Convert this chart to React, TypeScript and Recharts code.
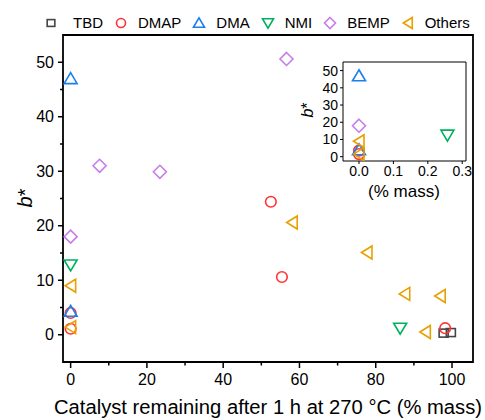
import React from "react";
import { ScatterChart, Scatter, XAxis, YAxis, ReferenceArea } from "recharts";

type Kind = "square" | "circle" | "triangle" | "down" | "diamond" | "left";

const seriesNames = ["TBD", "DMAP", "DMA", "NMI", "BEMP", "Others"];
const seriesKinds: Kind[] = ["square", "circle", "triangle", "down", "diamond", "left"];
const seriesColors = ["#444444", "#ff3333", "#1a7ff0", "#00b060", "#c77dea", "#e8a000"];

// main plot: catalyst remaining (% mass) vs b*
const tbdMass = [97.8, 99.7];
const tbdB = [0.3, 0.4];
const dmapMass = [0, 0, 52.5, 55.4, 98.2];
const dmapB = [1.1, 4.0, 24.4, 10.6, 1.2];
const dmaMass = [0, 0];
const dmaB = [47, 4.3];
const nmiMass = [0, 86.4];
const nmiB = [12.8, 1.2];
const bempMass = [0, 7.6, 23.4, 56.6];
const bempB = [18, 31, 29.9, 50.6];
const othersMass = [0, 0, 58.1, 77.7, 87.6, 96.9, 93];
const othersB = [9, 1.4, 20.6, 15.1, 7.5, 7.1, 0.5];

// inset: % mass
const insetDmapMass = [0, 0];
const insetDmapB = [1.5, 3.5];
const insetDmaMass = [0, 0];
const insetDmaB = [47, 4];
const insetNmiMass = [0.257];
const insetNmiB = [12.5];
const insetBempMass = [0];
const insetBempB = [18];
const insetOthersMass = [0, 0];
const insetOthersB = [9, 1.5];

const xTicks = [0, 10, 20, 30, 40, 50, 60, 70, 80, 90, 100];
const yTicks = [-5, 0, 5, 10, 15, 20, 25, 30, 35, 40, 45, 50, 55];
const insetXTicks = [0, 0.1, 0.2, 0.3];
const insetYTicks = [0, 10, 20, 30, 40, 50];

const zip = (xs: number[], ys: number[]) => xs.map((x, i) => ({ x, y: ys[i] }));

const mainData = [
  zip(tbdMass, tbdB),
  zip(dmapMass, dmapB),
  zip(dmaMass, dmaB),
  zip(nmiMass, nmiB),
  zip(bempMass, bempB),
  zip(othersMass, othersB),
];
const insetData = [
  [],
  zip(insetDmapMass, insetDmapB),
  zip(insetDmaMass, insetDmaB),
  zip(insetNmiMass, insetNmiB),
  zip(insetBempMass, insetBempB),
  zip(insetOthersMass, insetOthersB),
];

const FONT = "'Liberation Sans', Arial, sans-serif";

function Marker({ kind, cx, cy, color, s = 1 }: { kind: Kind; cx: number; cy: number; color: string; s?: number }) {
  const sw = 1.6;
  if (kind === "square")
    return <rect x={cx - 4.5 * s} y={cy - 4 * s} width={9 * s} height={8 * s} fill="none" stroke={color} strokeWidth={sw} />;
  if (kind === "circle") return <circle cx={cx} cy={cy} r={5.3 * s} fill="none" stroke={color} strokeWidth={sw} />;
  let pts: number[][] = [];
  if (kind === "triangle") pts = [[0, -6], [6.5, 5], [-6.5, 5]];
  if (kind === "down") pts = [[-6.5, -5], [6.5, -5], [0, 6]];
  if (kind === "diamond") pts = [[0, -6.5], [6.5, 0], [0, 6.5], [-6.5, 0]];
  if (kind === "left") pts = [[-5.5, 0], [5, -6.5], [5, 6.5]];
  return (
    <polygon
      points={pts.map(([dx, dy]) => `${cx + dx * s},${cy + dy * s}`).join(" ")}
      fill="none"
      stroke={color}
      strokeWidth={sw}
      strokeLinejoin="miter"
    />
  );
}

const MainXTick = (props: any) => {
  const { x, y, payload } = props;
  const major = payload.value % 20 === 0;
  return (
    <g>
      <line x1={x} x2={x} y1={y} y2={y + (major ? 6 : 3.5)} stroke="#000" strokeWidth={1.5} />
      {major && (
        <text x={x} y={y + 23} textAnchor="middle" fontSize={16} fontFamily={FONT} fill="#000">
          {payload.value}
        </text>
      )}
    </g>
  );
};

const MainYTick = (props: any) => {
  const { x, y, payload } = props;
  const v = payload.value;
  if (v < 0 || v > 50) return <g />;
  const major = v % 10 === 0;
  return (
    <g>
      <line x1={x} x2={x - (major ? 5 : 3)} y1={y} y2={y} stroke="#000" strokeWidth={1.5} />
      {major && (
        <text x={x - 9} y={y + 5.6} textAnchor="end" fontSize={16} fontFamily={FONT} fill="#000">
          {v}
        </text>
      )}
    </g>
  );
};

const InsetXTick = (props: any) => {
  const { x, y, payload } = props;
  return (
    <g>
      <line x1={x} x2={x} y1={y} y2={y + 3} stroke="#000" strokeWidth={1} />
      <text x={x} y={y + 15} textAnchor="middle" fontSize={14} fontFamily={FONT} fill="#000">
        {payload.value.toFixed(1)}
      </text>
    </g>
  );
};

const InsetYTick = (props: any) => {
  const { x, y, payload } = props;
  return (
    <g>
      <line x1={x} x2={x - 3} y1={y} y2={y} stroke="#000" strokeWidth={1} />
      <text x={x - 5} y={y + 5} textAnchor="end" fontSize={14} fontFamily={FONT} fill="#000">
        {payload.value}
      </text>
    </g>
  );
};

function Legend() {
  return (
    <div style={{ position: "absolute", left: 44, top: 14, display: "flex", alignItems: "center", fontFamily: FONT, fontSize: 15, color: "#000", whiteSpace: "nowrap" }}>
      {seriesNames.map((name, i) => (
        <div key={name} style={{ display: "flex", alignItems: "center", marginRight: 11 }}>
          <svg width={14} height={16} style={{ marginRight: i === 0 ? 15 : 10 }}>
            <Marker kind={seriesKinds[i]} cx={7} cy={8} color={seriesColors[i]} s={0.85} />
          </svg>
          <span>{name}</span>
        </div>
      ))}
    </div>
  );
}

export default function App() {
  return (
    <div style={{ position: "absolute", left: 0, top: 0, width: 485, height: 420, background: "#fff" }}>
      <ScatterChart width={485} height={420} margin={{ top: 35, right: 12, bottom: 0, left: 0 }}>
        <XAxis
          type="number"
          dataKey="x"
          domain={[-2, 105.5]}
          ticks={xTicks}
          interval={0}
          tickSize={0}
          tickMargin={0}
          axisLine={false}
          tickLine={false}
          tick={<MainXTick />}
          height={58}
          allowDataOverflow
          label={{
            content: () => (
              <text x={54} y={414} textLength={428} lengthAdjust="spacingAndGlyphs" fontSize={19.5} fontFamily={FONT} fill="#000">
                Catalyst remaining after 1 h at 270 °C (% mass)
              </text>
            ),
          }}
        />
        <YAxis
          type="number"
          dataKey="y"
          domain={[-5, 55]}
          ticks={yTicks}
          interval={0}
          tickSize={0}
          tickMargin={0}
          axisLine={false}
          tickLine={false}
          tick={<MainYTick />}
          width={63}
          allowDataOverflow
          label={{
            content: () => (
              <text x={32} y={198} transform="rotate(-90 32 198)" textAnchor="middle" fontSize={20} fontFamily={FONT} fill="#000">
                <tspan fontStyle="italic">b</tspan>*
              </text>
            ),
          }}
        />
        <ReferenceArea x1={-2} x2={105.5} y1={-5} y2={55} fill="none" stroke="#000" strokeWidth={1.8} fillOpacity={0} />
        {mainData.map((d, i) => (
          <Scatter
            key={seriesNames[i]}
            name={seriesNames[i]}
            data={d}
            isAnimationActive={false}
            shape={(p: any) => <Marker kind={seriesKinds[i]} cx={p.cx} cy={p.cy} color={seriesColors[i]} />}
          />
        ))}
      </ScatterChart>
      <Legend />
      <div style={{ position: "absolute", left: 300, top: 50 }}>
        <ScatterChart width={185} height={165} margin={{ top: 12, right: 19, bottom: 0, left: 0 }}>
          <ReferenceArea x1={-0.0465} x2={0.311} y1={-2.5} y2={55} fill="#fff" fillOpacity={1} stroke="#000" strokeWidth={1} />
          <XAxis
            type="number"
            dataKey="x"
            domain={[-0.0465, 0.311]}
            ticks={insetXTicks}
            interval={0}
            tickSize={0}
            tickMargin={0}
            axisLine={false}
            tickLine={false}
            tick={<InsetXTick />}
            height={54}
            allowDataOverflow
            label={{
              content: () => (
                <text x={104} y={147} textAnchor="middle" fontSize={17} fontFamily={FONT} fill="#000">
                  (% mass)
                </text>
              ),
            }}
          />
          <YAxis
            type="number"
            dataKey="y"
            domain={[-2.5, 55]}
            ticks={insetYTicks}
            interval={0}
            tickSize={0}
            tickMargin={0}
            axisLine={false}
            tickLine={false}
            tick={<InsetYTick />}
            width={43}
            allowDataOverflow
            label={{
              content: () => (
                <text x={13} y={60} transform="rotate(-90 13 60)" textAnchor="middle" fontSize={16} fontFamily={FONT} fill="#000">
                  <tspan fontStyle="italic">b</tspan>*
                </text>
              ),
            }}
          />
          {insetData.map((d, i) => (
            <Scatter
              key={seriesNames[i]}
              name={seriesNames[i]}
              data={d}
              isAnimationActive={false}
              shape={(p: any) => <Marker kind={seriesKinds[i]} cx={p.cx} cy={p.cy} color={seriesColors[i]} />}
            />
          ))}
        </ScatterChart>
      </div>
    </div>
  );
}
